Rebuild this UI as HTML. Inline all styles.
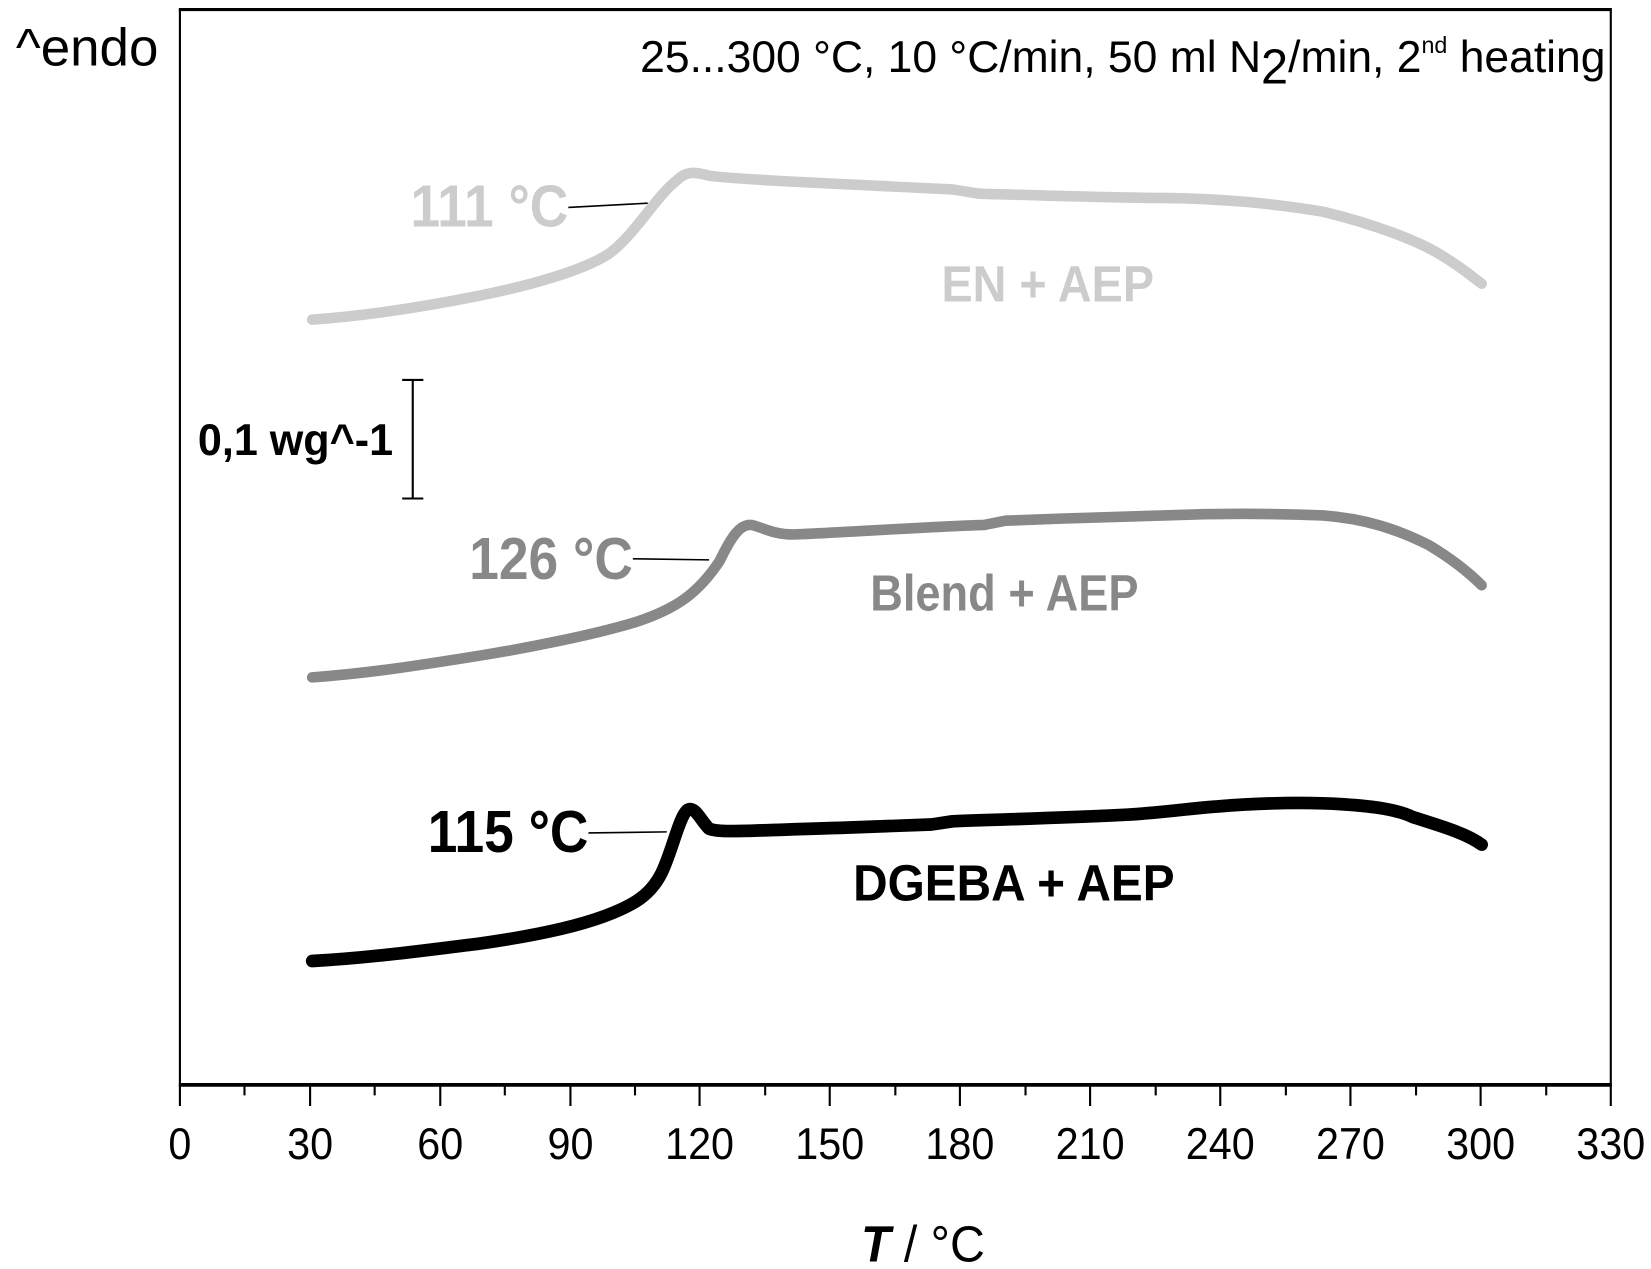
<!DOCTYPE html>
<html><head><meta charset="utf-8"><style>html,body{margin:0;padding:0;background:#fff;}svg{display:block}</style></head>
<body>
<svg width="1651" height="1269" viewBox="0 0 1560 1199" preserveAspectRatio="none" xmlns="http://www.w3.org/2000/svg" font-family="Liberation Sans, sans-serif">
<rect width="1560" height="1199" fill="#fff"/>
<line x1="170" y1="8" x2="170" y2="1025" stroke="#000" stroke-width="2"/>
<line x1="1522" y1="8" x2="1522" y2="1025" stroke="#000" stroke-width="2"/>
<line x1="169" y1="9" x2="1523" y2="9" stroke="#000" stroke-width="3"/>
<line x1="169" y1="1025" x2="1523" y2="1025" stroke="#000" stroke-width="3.5"/>
<g stroke="#000" stroke-width="2">
<path d="M170 1025V1045M293 1025V1045M416 1025V1045M539 1025V1045M661 1025V1045M784 1025V1045M907 1025V1045M1030 1025V1045M1153 1025V1045M1276 1025V1045M1399 1025V1045M1522 1025V1045"/>
<path d="M231 1025V1035M354 1025V1035M477 1025V1035M600 1025V1035M723 1025V1035M846 1025V1035M969 1025V1035M1092 1025V1035M1215 1025V1035M1338 1025V1035M1461 1025V1035"/>
</g>
<g font-size="42" text-anchor="middle" fill="#000">
<text transform="translate(170,1095) scale(0.93,1)">0</text>
<text transform="translate(293,1095) scale(0.93,1)">30</text>
<text transform="translate(416,1095) scale(0.93,1)">60</text>
<text transform="translate(539,1095) scale(0.93,1)">90</text>
<text transform="translate(661,1095) scale(0.93,1)">120</text>
<text transform="translate(784,1095) scale(0.93,1)">150</text>
<text transform="translate(907,1095) scale(0.93,1)">180</text>
<text transform="translate(1030,1095) scale(0.93,1)">210</text>
<text transform="translate(1153,1095) scale(0.93,1)">240</text>
<text transform="translate(1276,1095) scale(0.93,1)">270</text>
<text transform="translate(1399,1095) scale(0.93,1)">300</text>
<text transform="translate(1522,1095) scale(0.93,1)">330</text>
</g>
<text transform="translate(872,1192) scale(0.95,1)" font-size="48" text-anchor="middle"><tspan font-weight="bold" font-style="italic">T</tspan> / °C</text>
<text transform="translate(15,62)" font-size="50">^endo</text>
<text transform="translate(1517,68) scale(1.0,1)" font-size="42" text-anchor="end">25...300 °C, 10 °C/min, 50 ml N<tspan dy="11" font-size="46">2</tspan><tspan dy="-11">/min, 2</tspan><tspan dy="-18" font-size="22">nd</tspan><tspan dy="18"> heating</tspan></text>
<g fill="none" stroke-linecap="round" stroke-linejoin="round">
<path stroke="#cccccc" stroke-width="10" d="M295 302 C350 298 400 290 450 280 C500 270 550 256 575 240 C600 222 620 185 640 170 C648 162 656 162 670 166 C700 170 800 174 900 179 L925 183 C1000 185 1050 187 1100 187 C1160 188 1200 192 1250 200 C1300 212 1340 228 1360 240 C1385 255 1395 265 1400 268"/>
<path stroke="#888888" stroke-width="10" d="M295 640 C350 636 400 628 450 620 C500 612 560 600 600 588 C640 575 660 560 680 530 C692 505 700 495 710 496 C720 498 730 505 750 505 C800 503 870 498 930 496 L950 492 C1000 490 1060 488 1100 487 C1150 485 1200 485 1250 487 C1290 490 1320 500 1350 515 C1375 530 1390 543 1400 553"/>
<path stroke="#000000" stroke-width="12" d="M295 908 C350 905 400 898 450 892 C500 885 540 877 570 866 C600 855 615 845 625 825 C635 805 642 770 650 765 C657 762 662 775 670 783 C680 787 700 785 800 782 L880 779 L900 776 C950 774 1000 773 1060 770 C1100 768 1130 763 1150 762 C1200 758 1240 758 1270 760 C1300 762 1320 765 1335 772 C1360 780 1385 787 1400 798"/>
</g>
<g stroke="#000" stroke-width="1.5">
<line x1="537" y1="196" x2="612" y2="192"/>
<line x1="598" y1="528" x2="670" y2="529"/>
<line x1="556" y1="787" x2="630" y2="786"/>
</g>
<g font-weight="bold">
<text transform="translate(537,214) scale(0.9,1)" font-size="56" fill="#cccccc" text-anchor="end">111 °C</text>
<text transform="translate(990,285) scale(0.92,1)" font-size="48" fill="#cccccc" text-anchor="middle">EN + AEP</text>
<text transform="translate(598,547) scale(0.9,1)" font-size="56" fill="#888888" text-anchor="end">126 °C</text>
<text transform="translate(949,577) scale(0.89,1)" font-size="48" fill="#888888" text-anchor="middle">Blend + AEP</text>
<text transform="translate(556,805) scale(0.9,1)" font-size="56" fill="#000" text-anchor="end">115 °C</text>
<text transform="translate(958,851) scale(0.94,1)" font-size="48" fill="#000" text-anchor="middle">DGEBA + AEP</text>
<text transform="translate(187,430) scale(0.97,1)" font-size="42" fill="#000">0,1 wg^-1</text>
</g>
<g stroke="#000" stroke-width="2">
<line x1="390" y1="359" x2="390" y2="471"/>
<line x1="380" y1="359" x2="400" y2="359"/>
<line x1="380" y1="471" x2="400" y2="471"/>
</g>
</svg>
</body></html>
